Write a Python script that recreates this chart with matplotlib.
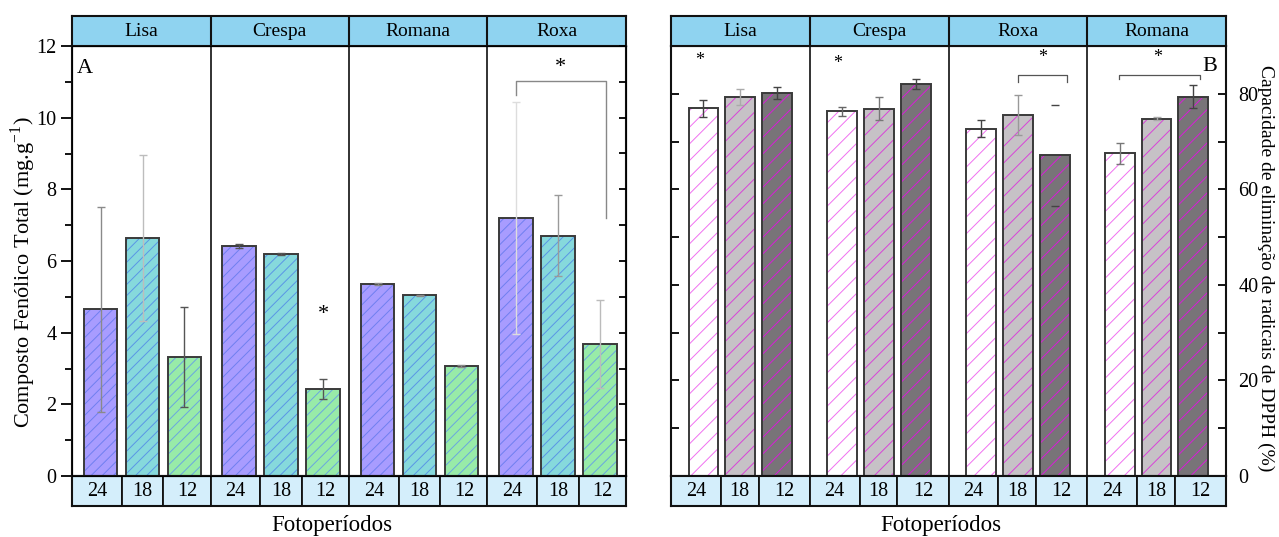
import numpy as np
import matplotlib
matplotlib.use('Agg')
import matplotlib.pyplot as plt
from matplotlib.patches import Rectangle

plt.rcParams['font.family'] = ['Liberation Serif', 'DejaVu Serif']
plt.rcParams['mathtext.fontset'] = 'stix'
plt.rcParams['hatch.linewidth'] = 0.7

# %% dados
fotoperiodos = ['24', '18', '12']

cultivares_a = ['Lisa', 'Crespa', 'Romana', 'Roxa']
fenol_media = [[4.65, 6.65, 3.32],
               [6.42, 6.20, 2.42],
               [5.36, 5.04, 3.07],
               [7.20, 6.70, 3.68]]
fenol_erro = [[2.85, 2.32, 1.40],
              [0.05, 0.02, 0.28],
              [0.03, 0.02, 0.03],
              [3.24, 1.13, 1.23]]

cultivares_b = ['Lisa', 'Crespa', 'Roxa', 'Romana']
dpph_media = [[77.0, 79.3, 80.1],
              [76.3, 76.9, 82.0],
              [72.7, 75.5, 67.1],
              [67.5, 74.8, 79.4]]
dpph_erro = [[1.8, 1.7, 1.25],
             [0.9, 2.4, 1.0],
             [1.8, 4.2, 10.5],
             [2.1, 0.3, 2.35]]

# estilos
cores_a = ['#a89cff', '#86d9dc', '#98eba8']
hatch_a = ['#6f7ff0', '#5a95e6', '#6aa6e0']
erro_cor_a = [['#8a8a8a', '#bdbdbd', '#555555'],
              ['#555555', '#555555', '#555555'],
              ['#888888', '#888888', '#888888'],
              ['#dddddd', '#9a9a9a', '#bbbbbb']]
haste_a = [[1.0] * 3] * 4
cores_b = ['#ffffff', '#c6c2c6', '#787478']
hatch_b = ['#f070f0', '#d843d8', '#d81cd8']
erro_cor_b = [['#444444', '#aaaaaa', '#444444'],
              ['#666666', '#777777', '#444444'],
              ['#444444', '#999999', '#444444'],
              ['#777777', '#aaaaaa', '#444444']]
# Roxa 12 (B): só os traços das extremidades aparecem
haste_b = [[1.0, 1.0, 1.0], [1.0, 1.0, 1.0], [1.0, 1.0, 0.0], [1.0, 1.0, 1.0]]

W, H = 1279, 537
fig = plt.figure(figsize=(W / 100, H / 100), dpi=100)


def px_rect(x0, y0, x1, y1):
    return [x0 / W, (H - y1) / H, (x1 - x0) / W, (y1 - y0) / H]


def painel(x0, x1, nomes, medias, erros, larg_grupo, desloc, larg_barra,
           limites_caixa, cores, hatches, hachura, erro_cores, hastes):
    ax = fig.add_axes(px_rect(x0, 46, x1, 476))
    topo = fig.add_axes(px_rect(x0, 16, x1, 46))
    base = fig.add_axes(px_rect(x0, 476, x1, 506))
    xmax = larg_grupo * len(nomes)
    for g, nome in enumerate(nomes):
        xs = g * larg_grupo + np.array(desloc)
        for k in range(3):
            ax.bar(xs[k], medias[g][k], width=larg_barra, color=cores[k],
                   edgecolor=hatches[k], hatch=hachura, linewidth=0, zorder=2)
            ax.bar(xs[k], medias[g][k], width=larg_barra, fill=False,
                   edgecolor='#3a3a3a', linewidth=1.4, zorder=3)
            ax.errorbar(xs[k], medias[g][k], yerr=erros[g][k], fmt='none',
                        ecolor=erro_cores[g][k], elinewidth=hastes[g][k],
                        capsize=3, capthick=1.0, zorder=4)
        if g > 0:
            ax.axvline(g * larg_grupo, color='#222222', lw=1.3, zorder=1)
            topo.axvline(g * larg_grupo, color='#111111', lw=1.5)
        topo.text((g + 0.5) * larg_grupo, 0.5, nome, ha='center', va='center',
                  fontsize=14)
        bordas = [0] + list(limites_caixa) + [larg_grupo]
        for k in range(3):
            a, b = g * larg_grupo + bordas[k], g * larg_grupo + bordas[k + 1]
            base.add_patch(Rectangle((a, 0), b - a, 1, facecolor='#d4eefb',
                                     edgecolor='#111111', lw=1.3))
            base.text((a + b) / 2, 0.48, fotoperiodos[k], ha='center',
                      va='center', fontsize=14.5)
    for a in (ax, topo, base):
        a.set_xlim(0, xmax)
        a.set_xticks([])
        for s in a.spines.values():
            s.set_linewidth(1.5)
            s.set_color('#111111')
    topo.set_facecolor('#8fd3f0')
    topo.set_ylim(0, 1)
    topo.set_yticks([])
    base.set_ylim(0, 1)
    base.set_yticks([])
    return ax


# painel A
axA = painel(72, 626, cultivares_a, fenol_media, fenol_erro, 3.3,
             [0.68, 1.68, 2.68], 0.8, [1.18, 2.18], cores_a, hatch_a, '///',
             erro_cor_a, haste_a)
axA.set_ylim(0, 12)
axA.set_yticks(np.arange(0, 13, 2))
axA.set_yticks(np.arange(1, 13, 2), minor=True)
axA.tick_params(axis='y', which='major', direction='out', length=8,
                width=1.3, labelsize=14.5, pad=3)
axA.tick_params(axis='y', which='minor', direction='out', length=5, width=1.3)
axA2 = axA.twinx()
axA2.set_ylim(0, 12)
axA2.set_yticks(np.arange(0, 13, 1))
axA2.tick_params(axis='y', direction='in', length=5, width=1.3,
                 labelright=False)
axA.text(0.008, 0.97, 'A', transform=axA.transAxes, ha='left', va='top',
         fontsize=16)
axA.text(1 * 3.3 + 2.68, 4.5, '*', ha='center', va='center', fontsize=16)
# colchete Roxa
bx0, bx1 = 3 * 3.3 + 0.68, 3 * 3.3 + 2.82
axA.plot([bx0, bx0, bx1, bx1], [10.64, 11.03, 11.03, 7.2], color='#888888',
         lw=1.0, zorder=5)
axA.text(11.65, 11.4, '*', ha='center', va='center', fontsize=16)

# painel B
gB = 139 / 36.93
axB = painel(671, 1226, cultivares_b, dpph_media, dpph_erro, gB,
             [0.88, 1.88, 2.88], 0.81, [1.35, 2.38], cores_b, hatch_b, '//',
             erro_cor_b, haste_b)
axB.set_ylim(0, 90)
axB.set_yticks(np.arange(0, 81, 20))
axB.set_yticks(np.arange(10, 91, 10), minor=True)
axB.tick_params(axis='y', which='both', direction='in', left=True, right=True,
                labelleft=False, labelright=True, length=6, width=1.3,
                labelsize=14.5, pad=9)
axB.text(0.985, 0.975, 'B', transform=axB.transAxes, ha='right', va='top',
         fontsize=16)
for xa, ya in [(0.79, 86.9), (4.52, 86.3), (10.07, 87.6), (13.21, 87.6)]:
    axB.text(xa, ya, '*', ha='center', va='center', fontsize=13)
axB.plot([9.42, 9.42, 10.75, 10.75], [82.4, 84.0, 84.0, 82.4],
         color='#555555', lw=0.9)
axB.plot([12.16, 12.16, 14.34, 14.34], [83.1, 84.0, 84.0, 83.1],
         color='#555555', lw=0.9)

fig.text(23 / W, 1 - 272 / H,
         r'Composto Fenólico Total (mg.g$^{\mathregular{-1}}$)',
         rotation=90, ha='center', va='center', fontsize=16)
fig.text(1266 / W, 1 - 268 / H,
         'Capacidade de eliminação de radicais de DPPH (%)',
         rotation=270, ha='center', va='center', fontsize=14)
fig.text(332 / W, 1 - 526 / H, 'Fotoperíodos', ha='center', va='center',
         fontsize=16.5)
fig.text(941 / W, 1 - 526 / H, 'Fotoperíodos', ha='center', va='center',
         fontsize=16.5)

fig.savefig('out.png', dpi=100, facecolor='white')
